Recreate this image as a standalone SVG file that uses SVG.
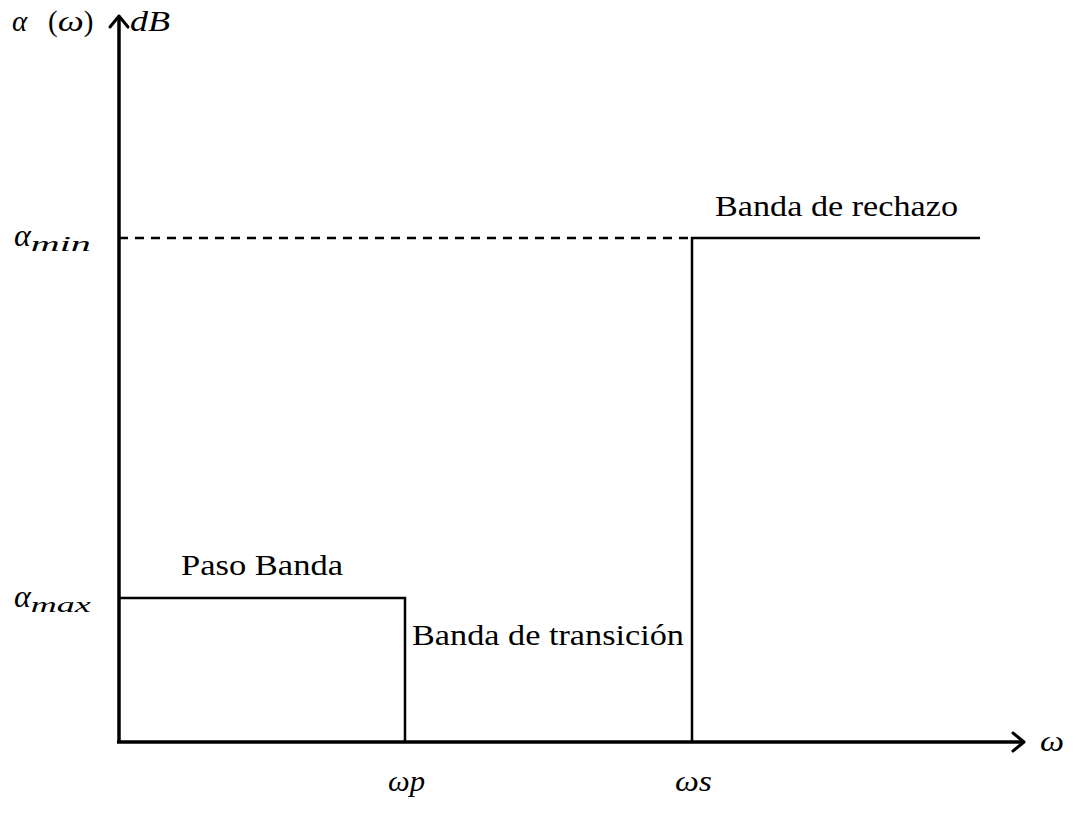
<svg xmlns="http://www.w3.org/2000/svg" width="1088" height="828" viewBox="0 0 1088 828">
<style>
text{font-family:"Liberation Serif","DejaVu Serif",serif;font-size:29px;fill:#000}
.m{font-style:italic}
.sub{font-style:italic;font-size:21px}
.ax{stroke:#000;stroke-width:3.5;fill:none}
.ln{stroke:#000;stroke-width:2.5;fill:none}
.ah{stroke:#000;stroke-width:3;fill:none;stroke-linecap:round;stroke-linejoin:round}
</style>
<rect width="1088" height="828" fill="#fff"/>
<g id="axes">
<line class="ax" x1="119" y1="742" x2="119" y2="18"/>
<polyline class="ah" points="110,27 119,16 128,27"/>
<line class="ax" x1="117" y1="742" x2="1022" y2="742"/>
<polyline class="ah" points="1013,733 1024,742 1013,751"/>
</g>
<g id="connectors">
<line class="ln" x1="119" y1="238" x2="692" y2="238" stroke-dasharray="9,7"/>
<polyline class="ln" points="692,742 692,238 980,238"/>
<polyline class="ln" points="119,598 405,598 405,742"/>
</g>
<g id="labels">
<text x="12" y="31" font-size="31"><tspan class="m">α</tspan><tspan x="48">(</tspan><tspan class="m" textLength="26" lengthAdjust="spacingAndGlyphs">ω</tspan>)</text>
<text class="m" x="130" y="31" font-size="30" textLength="40" lengthAdjust="spacingAndGlyphs">dB</text>
<text x="14" y="246"><tspan class="m" font-size="32">α</tspan><tspan class="sub" dy="5" textLength="60" lengthAdjust="spacingAndGlyphs">min</tspan></text>
<text x="14" y="607"><tspan class="m" font-size="32">α</tspan><tspan class="sub" dy="5" textLength="60" lengthAdjust="spacingAndGlyphs">max</tspan></text>
<text x="181" y="575" textLength="162" lengthAdjust="spacingAndGlyphs">Paso Banda</text>
<text x="715" y="216" textLength="243" lengthAdjust="spacingAndGlyphs">Banda de rechazo</text>
<text x="412" y="645" textLength="272" lengthAdjust="spacingAndGlyphs">Banda de transición</text>
<text class="m" x="388" y="791" font-size="30" textLength="37" lengthAdjust="spacingAndGlyphs">ωp</text>
<text class="m" x="675" y="791" font-size="30" textLength="37" lengthAdjust="spacingAndGlyphs">ωs</text>
<text class="m" x="1040" y="751" font-size="30" textLength="24" lengthAdjust="spacingAndGlyphs">ω</text>
</g>
</svg>
